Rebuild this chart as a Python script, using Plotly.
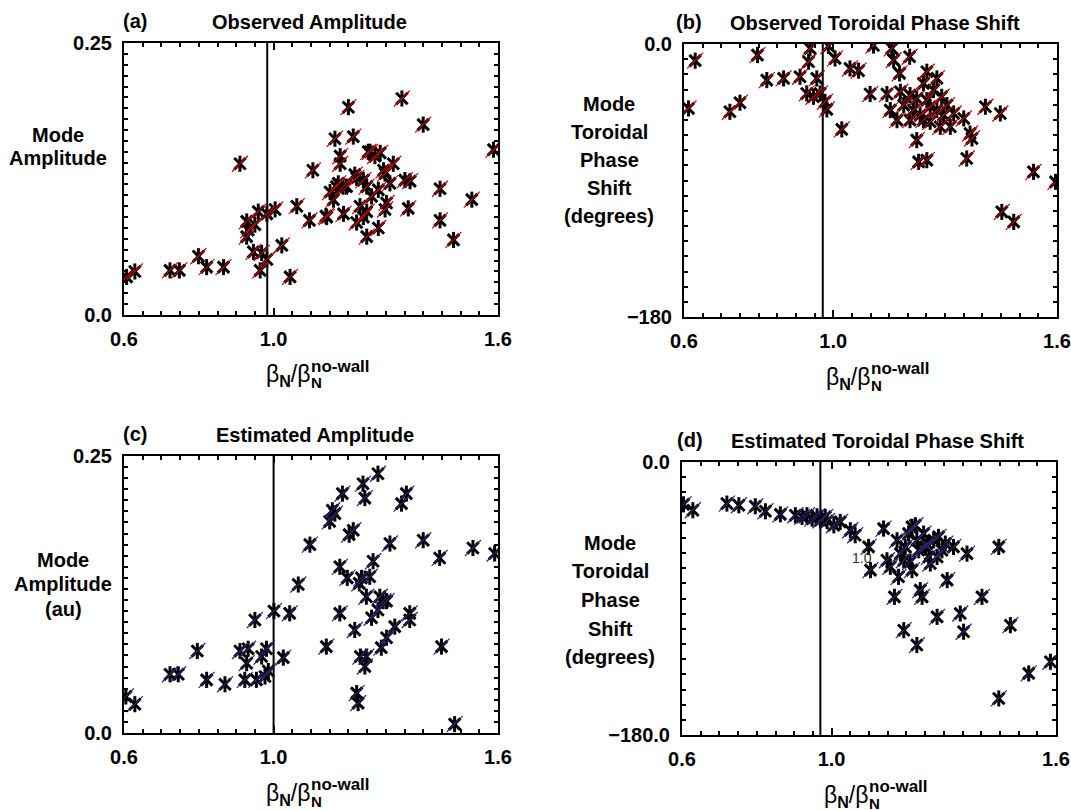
import numpy as np
import plotly.graph_objects as go

# ---------------- data ----------------
# (a) Observed amplitude
obs_amp_x = [0.607, 0.629, 0.723, 0.748, 0.799, 0.821, 0.866, 0.910, 0.928, 0.932,
             0.928, 0.950, 0.959, 0.946, 0.968, 0.964, 0.982, 0.982, 1.004, 1.022,
             1.044, 1.062, 1.096, 1.105, 1.140, 1.151, 1.160, 1.164, 1.173, 1.178,
             1.178, 1.187, 1.200, 1.213, 1.195, 1.217, 1.231, 1.240, 1.240, 1.249,
             1.249, 1.253, 1.249, 1.262, 1.271, 1.280, 1.280, 1.285, 1.294, 1.298,
             1.302, 1.311, 1.320, 1.343, 1.351, 1.365, 1.360, 1.400, 1.445, 1.445,
             1.481, 1.530, 1.588, 1.168, 1.222, 1.258, 1.298, 1.186, 1.142, 1.222]
obs_amp_y = [0.035, 0.040, 0.041, 0.041, 0.054, 0.044, 0.044, 0.139, 0.086, 0.078,
             0.072, 0.083, 0.095, 0.058, 0.057, 0.041, 0.051, 0.093, 0.097, 0.064,
             0.035, 0.100, 0.087, 0.133, 0.091, 0.113, 0.106, 0.162, 0.121, 0.146,
             0.139, 0.093, 0.191, 0.164, 0.118, 0.129, 0.100, 0.124, 0.090, 0.095,
             0.072, 0.150, 0.118, 0.109, 0.146, 0.115, 0.080, 0.149, 0.133, 0.097,
             0.103, 0.121, 0.139, 0.199, 0.124, 0.123, 0.098, 0.175, 0.116, 0.087,
             0.069, 0.106, 0.152, 0.118, 0.126, 0.150, 0.130, 0.118, 0.090, 0.085]

# (b) Observed toroidal phase shift (degrees)
obs_ph_x = [0.612, 0.630, 0.723, 0.750, 0.797, 0.822, 0.867, 0.911, 0.929, 0.934,
            0.938, 0.956, 0.947, 0.965, 0.978, 0.983, 0.987, 1.005, 1.023, 1.045,
            1.068, 1.108, 1.099, 1.144, 1.157, 1.162, 1.178, 1.153, 1.171, 1.180,
            1.189, 1.205, 1.206, 1.215, 1.224, 1.229, 1.251, 1.233, 1.242, 1.251,
            1.251, 1.260, 1.269, 1.278, 1.278, 1.291, 1.296, 1.305, 1.314, 1.323,
            1.350, 1.358, 1.367, 1.372, 1.408, 1.448, 1.452, 1.484, 1.537, 1.596,
            1.242, 1.224, 1.287, 1.206, 1.260]
obs_ph_y = [-42.5, -11.0, -44.7, -38.7, -7.3, -23.8, -22.7, -21.6, -32.6, -11.7,
            -2.9, -22.7, -34.8, -32.6, -38.1, -43.1, -1.3, -9.5, -56.3, -16.1,
            -17.6, -1.0, -33.0, -33.0, -2.9, -10.6, -19.4, -43.6, -50.2, -31.5,
            -40.3, -8.4, -33.7, -43.6, -63.4, -77.7, -76.6, -46.9, -26.0, -18.3,
            -37.0, -51.3, -30.4, -22.7, -43.6, -34.8, -46.9, -40.3, -54.6, -45.8,
            -49.1, -75.5, -59.0, -62.3, -41.4, -45.8, -110.7, -117.3, -84.3, -90.9,
            -50.2, -35.9, -54.6, -50.2, -41.4]

# (c) Estimated amplitude (au)
est_amp_x = [0.605, 0.629, 0.723, 0.745, 0.796, 0.821, 0.870, 0.910, 0.923, 0.932,
             0.928, 0.950, 0.954, 0.968, 0.977, 0.981, 0.986, 1.001, 1.026, 1.043,
             1.066, 1.097, 1.141, 1.150, 1.157, 1.164, 1.177, 1.177, 1.184, 1.197,
             1.202, 1.213, 1.217, 1.222, 1.226, 1.229, 1.232, 1.239, 1.244, 1.244,
             1.248, 1.248, 1.257, 1.262, 1.266, 1.279, 1.279, 1.284, 1.288, 1.302,
             1.302, 1.311, 1.324, 1.342, 1.355, 1.364, 1.364, 1.400, 1.444, 1.449,
             1.484, 1.533, 1.591, 1.235, 1.293]
est_amp_y = [0.033, 0.026, 0.053, 0.053, 0.074, 0.048, 0.044, 0.074, 0.048, 0.076,
             0.063, 0.102, 0.048, 0.069, 0.051, 0.076, 0.056, 0.110, 0.068, 0.108,
             0.134, 0.170, 0.078, 0.191, 0.201, 0.198, 0.150, 0.108, 0.216, 0.140,
             0.179, 0.183, 0.093, 0.036, 0.027, 0.135, 0.069, 0.225, 0.212, 0.060,
             0.123, 0.069, 0.141, 0.104, 0.155, 0.234, 0.111, 0.123, 0.077, 0.086,
             0.119, 0.171, 0.096, 0.207, 0.216, 0.108, 0.102, 0.174, 0.158, 0.078,
             0.008, 0.167, 0.162, 0.140, 0.119]

# (d) Estimated toroidal phase shift (degrees)
est_ph_x = [0.604, 0.629, 0.720, 0.752, 0.796, 0.823, 0.863, 0.903, 0.921, 0.934,
            0.948, 0.961, 0.970, 0.983, 0.988, 1.006, 1.023, 1.050, 1.063, 1.099,
            1.104, 1.139, 1.148, 1.157, 1.168, 1.175, 1.179, 1.184, 1.193, 1.197,
            1.206, 1.210, 1.215, 1.224, 1.228, 1.233, 1.237, 1.242, 1.246, 1.251,
            1.260, 1.264, 1.273, 1.282, 1.286, 1.295, 1.304, 1.309, 1.326, 1.344,
            1.353, 1.362, 1.402, 1.447, 1.447, 1.478, 1.527, 1.585, 1.215, 1.255,
            1.228, 1.193, 1.282]
est_ph_y = [-27.9, -31.8, -27.4, -28.5, -29.2, -32.5, -34.5, -35.1, -36.2, -35.1,
            -37.3, -35.8, -38.4, -36.2, -38.9, -41.7, -39.5, -45.0, -48.3, -56.0,
            -71.3, -43.9, -64.8, -69.1, -88.9, -51.6, -75.7, -60.4, -110.9, -56.0,
            -47.2, -65.9, -71.3, -41.7, -120.7, -58.2, -84.5, -88.9, -47.2, -56.0,
            -62.6, -66.9, -51.6, -102.1, -49.4, -58.2, -53.8, -77.9, -56.0, -99.9,
            -111.9, -60.4, -88.9, -56.0, -155.9, -107.6, -139.4, -131.7, -42.8, -53.8,
            -51.6, -64.8, -62.6]

# no-wall limit reference line position in each panel
wall_x = [0.983, 0.972, 1.0, 0.970]

titles = ["Observed Amplitude", "Observed Toroidal Phase Shift",
          "Estimated Amplitude", "Estimated Toroidal Phase Shift"]
letters = ["(a)", "(b)", "(c)", "(d)"]
x_ticktext = ["0.6", "1.0", "1.6"]
amp_ticktext = ["0.0", "0.25"]
phase_ticktext_b = ["\u2212180", "0.0"]
phase_ticktext_d = ["\u2212180.0", "0.0"]

# ---------------- layout helpers ----------------
W, H = 1071, 810
FONT = "Liberation Sans"


def px(x):
    return x / W


def py(y):
    return 1 - y / H


# plot areas in pixels: (left, right, top, bottom)
boxes = [(124, 498, 43, 315), (684, 1057, 44, 317),
         (124, 498, 456, 733), (682, 1056, 462, 735)]

fig = go.Figure()

slash_colors = ["#cc0000", "#cc0000", "#2e2570", "#2e2570"]
datasets = [(obs_amp_x, obs_amp_y), (obs_ph_x, obs_ph_y),
            (est_amp_x, est_amp_y), (est_ph_x, est_ph_y)]

for i, (xs, ys) in enumerate(datasets):
    xa = "x" if i == 0 else f"x{i+1}"
    ya = "y" if i == 0 else f"y{i+1}"
    fig.add_trace(go.Scatter(x=xs, y=ys, xaxis=xa, yaxis=ya, mode="markers",
                             marker=dict(symbol="x-thin-open", size=11.5, color="black",
                                         line=dict(color="black", width=3)),
                             showlegend=False, hoverinfo="skip"))
    fig.add_trace(go.Scatter(x=xs, y=ys, xaxis=xa, yaxis=ya, mode="markers",
                             marker=dict(symbol="line-ns-open", size=11.5, color="black",
                                         line=dict(color="black", width=3)),
                             showlegend=False, hoverinfo="skip"))
    fig.add_trace(go.Scatter(x=xs, y=ys, xaxis=xa, yaxis=ya, mode="markers",
                             marker=dict(symbol="line-ne-open", size=16, color=slash_colors[i],
                                         line=dict(color=slash_colors[i], width=1.2)),
                             showlegend=False, hoverinfo="skip"))

tickfont = dict(family=FONT, size=20, color="black", weight="bold")
x_major = [round(v, 2) for v in np.arange(0.6, 1.601, 0.1)]
x_text = [x_ticktext[[0.6, 1.0, 1.6].index(v)] if v in (0.6, 1.0, 1.6) else "" for v in x_major]
x_minor = [round(v, 3) for v in np.arange(0.6, 1.601, 0.05)]

amp_major = [round(v, 2) for v in np.arange(0, 0.2501, 0.05)]
amp_text = [amp_ticktext[0]] + [""] * 4 + [amp_ticktext[1]]
amp_minor = [round(v, 3) for v in np.arange(0, 0.2501, 0.01)]

ph_major = [-180, -150, -100, -50, 0]
ph_minor = list(range(-180, 1, 10))

layout = dict(width=W, height=H, margin=dict(l=0, r=0, t=0, b=0, autoexpand=False),
              paper_bgcolor="white", plot_bgcolor="white", showlegend=False)

for i, (l, r, t, b) in enumerate(boxes):
    xname = "xaxis" if i == 0 else f"xaxis{i+1}"
    yname = "yaxis" if i == 0 else f"yaxis{i+1}"
    anchor_y = "y" if i == 0 else f"y{i+1}"
    anchor_x = "x" if i == 0 else f"x{i+1}"
    layout[xname] = dict(domain=[px(l), px(r)], anchor=anchor_y, range=[0.6, 1.6],
                         tickmode="array", tickvals=x_major, ticktext=x_text,
                         ticks="inside", ticklen=7, tickwidth=1.5, tickcolor="black",
                         minor=dict(tickmode="array", tickvals=x_minor, ticks="inside",
                                    ticklen=4, tickwidth=1.5, tickcolor="black"),
                         showline=True, linecolor="black", linewidth=2, mirror="allticks",
                         showgrid=False, zeroline=False, tickfont=tickfont,
                         ticklabelstandoff=5, fixedrange=True, automargin=False)
    if i in (0, 2):
        ydict = dict(range=[0, 0.25], tickvals=amp_major, ticktext=amp_text,
                     minor=dict(tickmode="array", tickvals=amp_minor, ticks="inside",
                                ticklen=4, tickwidth=1.5, tickcolor="black"))
    else:
        txt = phase_ticktext_b if i == 1 else phase_ticktext_d
        ydict = dict(range=[-180, 0], tickvals=ph_major,
                     ticktext=[txt[0], "", "", "", txt[1]],
                     minor=dict(tickmode="array", tickvals=ph_minor, ticks="inside",
                                ticklen=4, tickwidth=1.5, tickcolor="black"))
    layout[yname] = dict(domain=[py(b), py(t)], anchor=anchor_x, tickmode="array",
                         ticks="inside", ticklen=7, tickwidth=1.5, tickcolor="black",
                         showline=True, linecolor="black", linewidth=2, mirror="allticks",
                         showgrid=False, zeroline=False, tickfont=tickfont,
                         ticklabelstandoff=6, fixedrange=True, automargin=False, **ydict)

fig.update_layout(**layout)

# reference (no-wall limit) vertical lines
for i, xv in enumerate(wall_x):
    xa = "x" if i == 0 else f"x{i+1}"
    ya = "y" if i == 0 else f"y{i+1}"
    fig.add_shape(type="line", xref=xa, yref=f"{ya} domain", x0=xv, x1=xv, y0=0, y1=1,
                  line=dict(color="black", width=2), layer="below")

ann = []


def text(x, y, s, size=20, weight="bold", xanchor="center", yanchor="middle", color="black"):
    ann.append(dict(x=px(x), y=py(y), xref="paper", yref="paper", text=s, showarrow=False,
                    xanchor=xanchor, yanchor=yanchor, borderpad=0,
                    font=dict(family=FONT, size=size, color=color, weight=weight)))


# panel letters and titles
letter_pos = [(122, 21), (675, 22), (122, 434), (676, 440)]
title_pos = [(309, 22), (875, 23), (315, 435), (877, 441)]
for i in range(4):
    text(letter_pos[i][0], letter_pos[i][1], letters[i], xanchor="left")
    text(title_pos[i][0], title_pos[i][1], titles[i])

# y-axis labels, one line each
ylab_lines = [
    (58, [("Mode", 135), ("Amplitude", 158)]),
    (609, [("Mode", 104), ("Toroidal", 132), ("Phase", 160), ("Shift", 188), ("(degrees)", 216)]),
    (63, [("Mode", 560), ("Amplitude", 584), ("(au)", 609)]),
    (610, [("Mode", 543), ("Toroidal", 571), ("Phase", 600), ("Shift", 629), ("(degrees)", 657)]),
]
for cx, lines in ylab_lines:
    for s, yy in lines:
        text(cx, yy, s)

# x-axis titles: beta_N / beta_N^{no-wall}
for (l, r, t, b) in boxes:
    cx = (l + r) / 2 + 4
    yb = b + 61
    s = cx - 6
    text(s + 2, yb, "\u03b2<sub><b>N</b></sub>/\u03b2", size=23, weight="normal",
         xanchor="right")
    text(s + 1, yb - 10, "no-wall", size=17, xanchor="left")
    text(s + 1, yb + 7, "N", size=15, xanchor="left")

# stray label visible in panel (d)
text(862, 558, "1.0", size=14, weight="normal", color="#333333")

fig.update_layout(annotations=ann)
fig.write_html("out.html", config={"displayModeBar": False},
               post_script="document.body.style.margin='0px';")
